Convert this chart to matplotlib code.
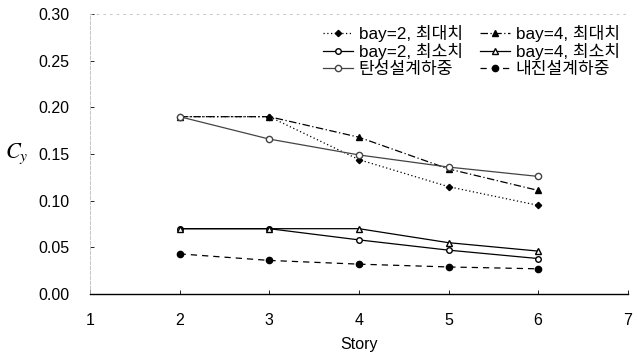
import matplotlib.pyplot as plt

plt.rcParams['font.family'] = ['Liberation Sans', 'Noto Sans CJK KR', 'DejaVu Sans']
plt.rcParams['mathtext.fontset'] = 'stix'

story = [2, 3, 4, 5, 6]

bay2_max = [0.190, 0.190, 0.144, 0.115, 0.095]
bay4_max = [0.190, 0.190, 0.168, 0.134, 0.111]
bay2_min = [0.070, 0.070, 0.058, 0.047, 0.038]
bay4_min = [0.070, 0.070, 0.070, 0.055, 0.046]
elastic = [0.190, 0.166, 0.149, 0.136, 0.126]
seismic = [0.043, 0.036, 0.032, 0.029, 0.027]

labels = ['bay=2, 최대치', 'bay=4, 최대치', 'bay=2, 최소치',
          'bay=4, 최소치', '탄성설계하중', '내진설계하중']

fig = plt.figure(figsize=(6.38, 3.59), dpi=100)
ax = fig.add_axes([0.141, 0.181, 0.843, 0.78])

l1, = ax.plot(story, bay2_max, color='black', linestyle=(0, (1, 2)), lw=0.9,
              marker='D', ms=3.2, label=labels[0])
l2, = ax.plot(story, bay4_max, color='black', linestyle=(0, (6, 2, 1, 2)), lw=0.9,
              marker='^', ms=4.5, label=labels[1])
l3, = ax.plot(story, bay2_min, color='black', linestyle='-', lw=0.9,
              marker='o', ms=4, mfc='white', label=labels[2])
l4, = ax.plot(story, bay4_min, color='black', linestyle='-', lw=0.9,
              marker='^', ms=4.5, mfc='white', label=labels[3])
l5, = ax.plot(story, elastic, color='#444444', linestyle='-', lw=0.9,
              marker='o', ms=4.5, mfc='white', mec='#444444', label=labels[4])
l6, = ax.plot(story, seismic, color='black', linestyle=(0, (5, 4)), lw=0.9,
              marker='o', ms=4.5, label=labels[5])

ax.set_xlim(1, 7)
ax.set_ylim(0, 0.30)
ax.set_xticks([1, 2, 3, 4, 5, 6, 7])
ax.set_yticks([0.00, 0.05, 0.10, 0.15, 0.20, 0.25, 0.30])
ax.set_yticklabels(['%.2f' % v for v in ax.get_yticks()])
ax.tick_params(direction='in', length=3, labelsize=11.5, colors='black', width=0.6)
ax.tick_params(axis='x', pad=14)
ax.tick_params(axis='y', pad=15)

ax.spines['bottom'].set_color('black')
ax.spines['bottom'].set_linewidth(1.0)
for s in ['left', 'top', 'right']:
    ax.spines[s].set_color('#bbbbbb')
    ax.spines[s].set_linewidth(0.6)
ax.spines['left'].set_linestyle((0, (4, 2)))
ax.spines['top'].set_linestyle((0, (2, 6)))
ax.spines['right'].set_visible(False)

ax.set_xlabel('Story', fontsize=11.5, labelpad=6)
ax.set_ylabel(r'$C_y$', fontsize=16, rotation=0, va='center', ha='center')
ax.yaxis.set_label_coords(-0.136, 0.5)

handles = [l1, l3, l5, l2, l4, l6]
ax.legend(handles, [h.get_label() for h in handles], loc='upper right',
          bbox_to_anchor=(0.998, 0.985), ncol=2, frameon=False, fontsize=12.3,
          handlelength=1.75, handletextpad=0.35, columnspacing=1.0,
          labelspacing=0.08, borderaxespad=0.0)

fig.savefig('out.png', dpi=100)
